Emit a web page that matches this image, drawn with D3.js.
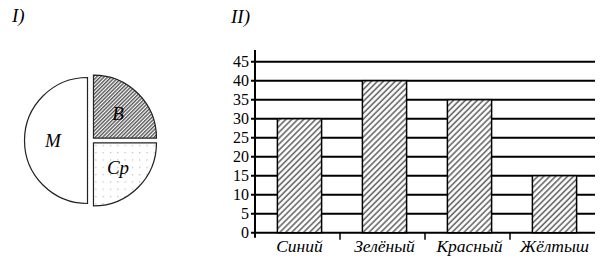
<!DOCTYPE html>
<html>
<head>
<meta charset="utf-8">
<script src="https://cdn.jsdelivr.net/npm/d3@7"></script>
<style>
  html, body { margin: 0; padding: 0; background: #fff; }
</style>
</head>
<body>
<svg id="chart" width="607" height="266"></svg>
<script>
const SERIF = "Liberation Serif";

// Chart I: sector diagram
const pieLabels = ["В", "Ср", "М"];
const pieValues = [25, 25, 50];
const pieFills = ["url(#hatch-dense)", "url(#dots)", "#fff"];

// Chart II: bar chart
const categories = ["Синий", "Зелёный", "Красный", "Жёлтыш"];
const barValues = [30, 40, 35, 15];
const yTicks = [0, 5, 10, 15, 20, 25, 30, 35, 40, 45];

const svg = d3.select("#chart");
const defs = svg.append("defs");

// dense hatch for В
const hd = defs.append("pattern")
  .attr("id", "hatch-dense")
  .attr("patternUnits", "userSpaceOnUse")
  .attr("width", 2.6).attr("height", 2.6)
  .attr("patternTransform", "rotate(45)");
hd.append("rect").attr("width", 2.6).attr("height", 2.6).attr("fill", "#fff");
hd.append("line").attr("x1", 0.7).attr("x2", 0.7).attr("y1", 0).attr("y2", 2.6)
  .attr("stroke", "#555").attr("stroke-width", 1.4);

// dots for Ср
const dp = defs.append("pattern")
  .attr("id", "dots")
  .attr("patternUnits", "userSpaceOnUse")
  .attr("width", 7.3).attr("height", 7.3);
dp.append("rect").attr("width", 7.3).attr("height", 7.3).attr("fill", "#fff");
dp.append("rect").attr("x", 2).attr("y", 2).attr("width", 1).attr("height", 1).attr("fill", "#999");

// bar hatch
const hb = defs.append("pattern")
  .attr("id", "hatch-bar")
  .attr("patternUnits", "userSpaceOnUse")
  .attr("width", 4.2).attr("height", 4.2)
  .attr("patternTransform", "rotate(45)");
hb.append("rect").attr("width", 4.2).attr("height", 4.2).attr("fill", "#fff");
hb.append("line").attr("x1", 1).attr("x2", 1).attr("y1", 0).attr("y2", 4.2)
  .attr("stroke", "#666").attr("stroke-width", 1.6);

// ---- Chart I ----
svg.append("text")
  .attr("x", 12).attr("y", 22)
  .attr("font-family", SERIF)
  .attr("font-size", "19px").attr("font-style", "italic")
  .text("I)");

const r = 63;
const explode = 3.5;
const pie = d3.pie().sort(null).value((d) => d);
const arcs = pie(pieValues);
const arc = d3.arc().innerRadius(0).outerRadius(r);
const labelArc = d3.arc().innerRadius(r * 0.55).outerRadius(r * 0.55);

const pieG = svg.append("g").attr("transform", "translate(91,140.5)");

arcs.forEach((a, i) => {
  const mid = (a.startAngle + a.endAngle) / 2;
  const dx = Math.sin(mid) * explode;
  const dy = -Math.cos(mid) * explode;
  const sg = pieG.append("g").attr("transform", `translate(${dx},${dy})`);
  sg.append("path")
    .attr("d", arc(a))
    .attr("fill", pieFills[i])
    .attr("stroke", "#222")
    .attr("stroke-width", 1.2);
  const c = labelArc.centroid(a);
  sg.append("text")
    .attr("x", c[0]).attr("y", c[1])
    .attr("dy", "0.35em")
    .attr("text-anchor", "middle")
    .attr("font-family", SERIF)
    .attr("font-size", "19px")
    .attr("font-style", "italic")
    .text(pieLabels[i]);
});

// ---- Chart II ----
svg.append("text")
  .attr("x", 231).attr("y", 23)
  .attr("font-family", SERIF)
  .attr("font-size", "19px").attr("font-style", "italic")
  .text("II)");

const axisX = 255, right = 595;
const y = d3.scaleLinear().domain([0, 45]).range([232.7, 61.7]);
const x = d3.scaleBand().domain(categories).range([axisX, right]).padding(0);
const barW = x.bandwidth() * 0.52;

// gridlines with left ticks
svg.append("g").selectAll("line")
  .data(yTicks)
  .join("line")
  .attr("x1", axisX - 4).attr("x2", right)
  .attr("y1", (d) => y(d)).attr("y2", (d) => y(d))
  .attr("stroke", "#000").attr("stroke-width", 2);

// y tick labels
svg.append("g").selectAll("text")
  .data(yTicks)
  .join("text")
  .attr("x", axisX - 6)
  .attr("y", (d) => y(d))
  .attr("dy", "0.35em")
  .attr("text-anchor", "end")
  .attr("font-family", SERIF)
  .attr("font-size", "16px")
  .text((d) => d);

// bars
svg.append("g").selectAll("rect")
  .data(barValues)
  .join("rect")
  .attr("x", (d, i) => x(categories[i]) + (x.bandwidth() - barW) / 2 + 2)
  .attr("y", (d) => y(d))
  .attr("width", barW)
  .attr("height", (d) => y(0) - y(d))
  .attr("fill", "url(#hatch-bar)")
  .attr("stroke", "#000")
  .attr("stroke-width", 1.5);

// y axis line
svg.append("line")
  .attr("x1", axisX).attr("x2", axisX)
  .attr("y1", 50).attr("y2", y(0) + 5)
  .attr("stroke", "#000").attr("stroke-width", 2);

// category separators below axis
svg.append("g").selectAll("line")
  .data(categories.slice(1))
  .join("line")
  .attr("x1", (d) => x(d)).attr("x2", (d) => x(d))
  .attr("y1", y(0)).attr("y2", y(0) + 7)
  .attr("stroke", "#000").attr("stroke-width", 1.5);

// category labels
svg.append("g").selectAll("text")
  .data(categories)
  .join("text")
  .attr("x", (d) => x(d) + x.bandwidth() / 2 + 2)
  .attr("y", 252)
  .attr("text-anchor", "middle")
  .attr("font-family", SERIF)
  .attr("font-size", "17.5px")
  .attr("font-style", "italic")
  .text((d) => d);
</script>
</body>
</html>
